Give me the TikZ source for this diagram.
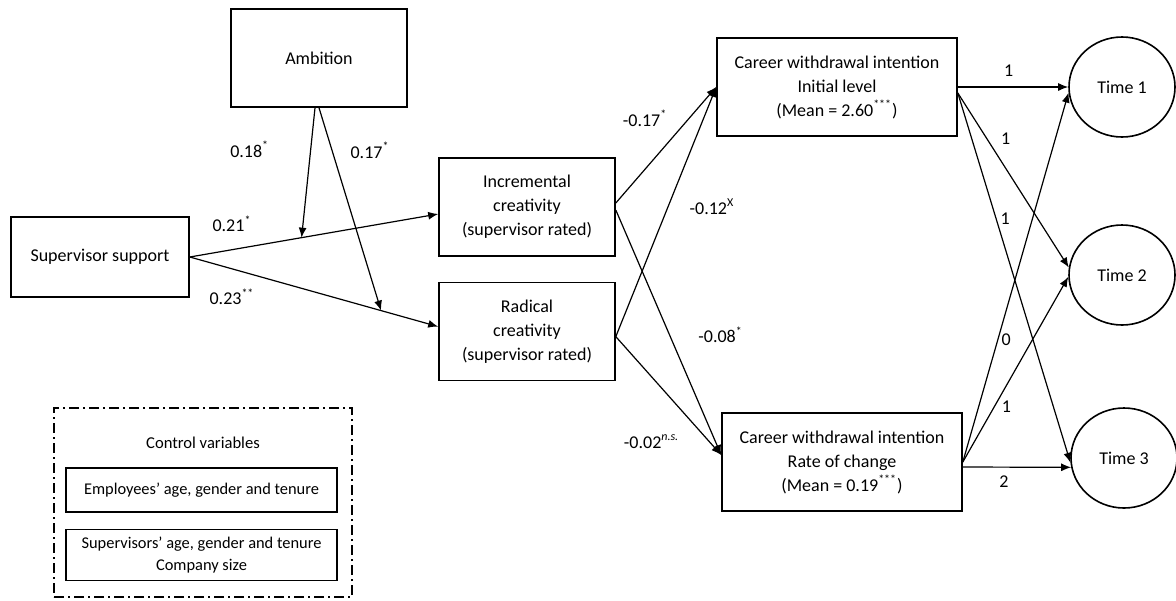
\documentclass[tikz,border=0pt]{standalone}
\usepackage{fontspec}
\setmainfont{Carlito}
\usetikzlibrary{arrows.meta,positioning,shapes.geometric}

\begin{document}
\begin{tikzpicture}[x=0.5pt, y=-0.5pt, >={Latex[length=5pt,width=4pt]},
  every node/.style={font=\fontsize{9}{12}\selectfont},
  box/.style={draw, line width=0.8pt, align=center, minimum width=88pt, minimum height=49pt},
  wide/.style={box, minimum width=120pt},
  wave/.style={draw, line width=0.8pt, ellipse, minimum width=53pt, minimum height=50pt, inner sep=0pt},
  ctrl/.style={draw, line width=0.7pt, align=center, minimum width=135.5pt, inner sep=1pt,
               font=\fontsize{8.2}{11}\selectfont},
  link/.style={->, line width=0.6pt}]
  \useasboundingbox (0,0) rectangle (1176,600);

  % Nodes
  \node[box] (amb) at (319,58) {Ambition};
  \node[box, minimum width=89pt, minimum height=40pt] (sup) at (100,257) {Supervisor support};
  \node[box] (inc) at (527,207) {Incremental\\creativity\\(supervisor rated)};
  \node[box, below=12.5pt of inc] (rad) {Radical\\creativity\\(supervisor rated)};
  \node[wide] (ini) at (837,87)
        {Career withdrawal intention\\Initial level\\(Mean = 2.60\textsuperscript{***})};
  \node[wide] (rate) at (842,462)
        {Career withdrawal intention\\Rate of change\\(Mean = 0.19\textsuperscript{***})};
  \node[wave] (t1) at (1122,87) {Time 1};
  \node[wave] (t2) at (1122,275) {Time 2};
  \node[wave] (t3) at (1124,458) {Time 3};

  % Control variables
  \node[draw, line width=0.7pt, dash pattern=on 5pt off 2pt on 1pt off 2pt,
        minimum width=149pt, minimum height=94.5pt] (ctlbox) at (203,502.5) {};
  \node[font=\fontsize{8.3}{11}\selectfont] (ctl) at (203,443) {Control variables};
  \node[ctrl, minimum height=22pt] (emp) at (201.5,490) {Employees’ age, gender and tenure};
  \node[ctrl, minimum height=25.5pt, below=8pt of emp] (boss)
        {Supervisors’ age, gender and tenure\\Company size};

  % Supervisor support and moderation
  \draw[link] (sup.east) -- coordinate[pos=0.45] (m1) ([yshift=-3.5pt]inc.west)
      node[pos=0.17, yshift=13pt] {0.21\textsuperscript{*}};
  \draw[link] (sup.east) -- coordinate[pos=0.77] (m2) ([yshift=2.5pt]rad.west)
      node[pos=0.17, yshift=-14pt] {0.23\textsuperscript{**}};
  \draw[link] ([xshift=-2pt]amb.south) -- (m1)
      node[pos=0.32, xshift=-30.5pt] {0.18\textsuperscript{*}};
  \draw[link] (amb.south) -- (m2)
      node[pos=0.21, xshift=19pt] {0.17\textsuperscript{*}};

  % Creativity to career withdrawal
  \draw[link] ([yshift=2pt]inc.east) -- (ini.west)
      node[pos=0.73, xshift=-22pt] {-0.17\textsuperscript{*}};
  \draw[link] ([yshift=-2.5pt]rad.east) -- (ini.west)
      node[pos=0.52, xshift=22pt] {-0.12\textsuperscript{X}};
  \draw[link] ([yshift=-1.5pt]inc.east) -- ([yshift=3.5pt]rate.west)
      node[pos=0.51, xshift=25.5pt] {-0.08\textsuperscript{*}};
  \draw[link] ([yshift=-2.5pt]rad.east) -- ([yshift=3.5pt]rate.west)
      node[pos=0.89, xshift=-29pt] {-0.02\textsuperscript{\textit{n.s.}}};

  % Loadings on the time points
  \draw[link] (ini.east) -- (t1.west) node[pos=0.46, yshift=8pt] {1};
  \draw[link] ([yshift=-3pt]ini.east) -- (t2.172) node[pos=0.26, xshift=9.5pt] {1};
  \draw[link] ([yshift=-3pt]ini.east) -- (t3.185) node[pos=0.34, xshift=4.5pt] {1};
  \draw[link] (rate.east) -- (t1.186) node[pos=0.33, xshift=4.3pt] {0};
  \draw[link] (rate.east) -- (t2.182) node[pos=0.30, xshift=6pt] {1};
  \draw[link] ([yshift=-2.5pt]rate.east) -- (t3.190) node[pos=0.38, yshift=-7.5pt] {2};
\end{tikzpicture}
\end{document}
